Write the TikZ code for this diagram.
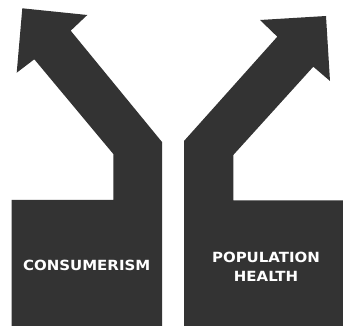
\documentclass[tikz,border=0pt]{standalone}
\usepackage{fontspec}
\setmainfont{DejaVu Sans}
\newfontfamily\signfont[FakeStretch=1.07]{DejaVu Sans}
\definecolor{arrowgray}{RGB}{51,51,51}
\tikzset{
  label/.style={text=white, font=\signfont\bfseries\fontsize{14}{19}\selectfont, align=center, inner sep=0pt}
}
\begin{document}
\begin{tikzpicture}[x=1pt, y=-1pt]
      \useasboundingbox (0,0) rectangle (343,326);
      % left way
      \fill[arrowgray]
        (11.7,326) -- (11.7,200) -- (113.3,200) -- (113.3,154)
        -- (34.3,59.3) -- (16.7,72.7) -- (22.3,8.3) -- (87.3,15)
        -- (70.7,30.7) -- (162,142) -- (162,326) -- cycle;
      % right way
      \fill[arrowgray]
        (184,326) -- (184,141) -- (277.3,36.7) -- (260,20)
        -- (326,16) -- (330,81) -- (313.3,66.7) -- (233.3,155)
        -- (233.3,200.5) -- (343,200.5) -- (343,326) -- cycle;
      \node[label] (cons) at (86.7,265) {CONSUMERISM};
      \node[label] (pop) at (266,266.5) {POPULATION\\HEALTH};
    \end{tikzpicture}
\end{document}
